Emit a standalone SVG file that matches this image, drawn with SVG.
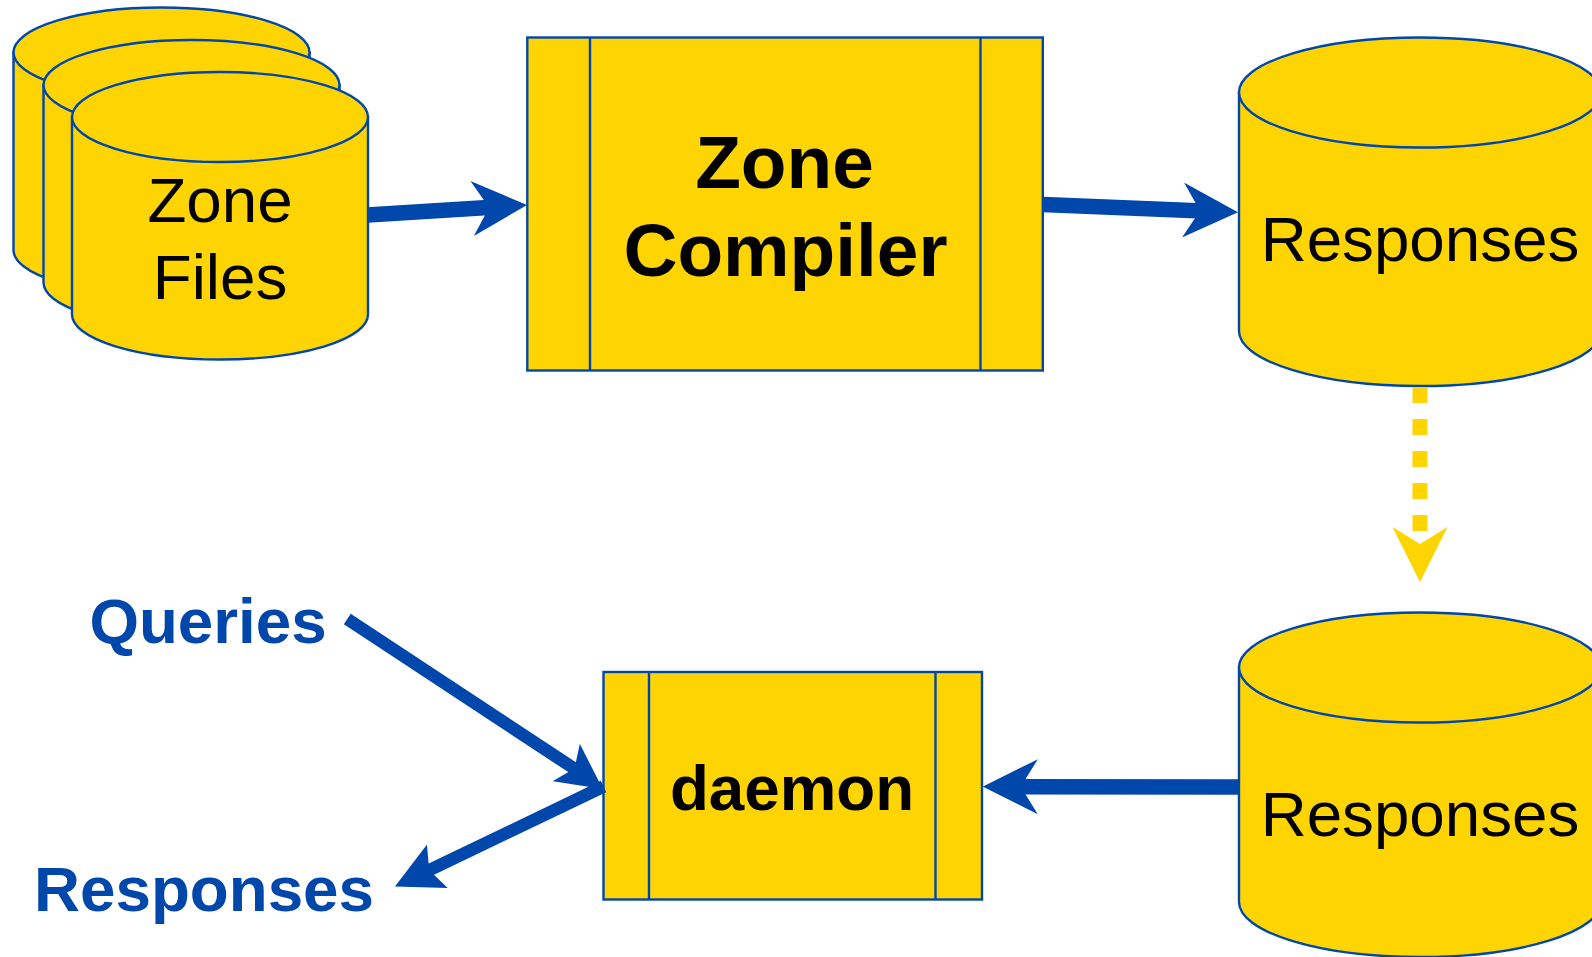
<svg xmlns="http://www.w3.org/2000/svg" width="1592" height="957" viewBox="0 0 1592 957">
<style>
.s{fill:#FFD403;stroke:#0047AB;stroke-width:2.4}
.t{font-family:"Liberation Sans",Arial,sans-serif;font-size:63.7px;fill:#000;text-anchor:middle}
.b{font-weight:bold}
.q{fill:#0047AB}
.big{font-size:74.8px}
.a{fill:none;stroke:#0047AB;stroke-width:15.5}
.a2{fill:none;stroke:#0047AB;stroke-width:12.5}
.d{fill:none;stroke:#FFD403;stroke-width:15;stroke-dasharray:16 16}
</style>
<defs>
<marker id="h" markerUnits="userSpaceOnUse" viewBox="0 0 55 55" markerWidth="55" markerHeight="55" refX="20" refY="27.5" orient="auto"><path d="M55,27.5L0,0L17,27.5L0,55Z" fill="#0047AB"/></marker>
<marker id="hs" markerUnits="userSpaceOnUse" viewBox="0 0 47 48" markerWidth="47" markerHeight="48" refX="17" refY="24" orient="auto"><path d="M47,24L0,0L9,24L0,48Z" fill="#0047AB"/></marker>
<marker id="hq" markerUnits="userSpaceOnUse" viewBox="0 0 45 46" markerWidth="45" markerHeight="46" refX="15" refY="23" orient="36"><path d="M45,23L0,0L10,23L0,46Z" fill="#0047AB"/></marker>
<marker id="hd" markerUnits="userSpaceOnUse" viewBox="0 0 55 55" markerWidth="55" markerHeight="55" refX="17" refY="27.5" orient="auto"><path d="M55,27.5L0,0L17,27.5L0,55Z" fill="#FFD403"/></marker>
</defs>
<g id="zone-file-1">
<path class="s" d="M13.5,52.5V250A148,45 0 0 0 309.5,250V52.5Z"/><ellipse class="s" cx="161.5" cy="52.5" rx="148" ry="45"/>
</g>
<g id="zone-file-2">
<path class="s" d="M43.5,85V282.5A148,45 0 0 0 339.5,282.5V85Z"/><ellipse class="s" cx="191.5" cy="85" rx="148" ry="45"/>
</g>
<g id="zone-file-3">
<path class="s" d="M72,117V314.5A148,45 0 0 0 368,314.5V117Z"/><ellipse class="s" cx="220" cy="117" rx="148" ry="45"/>
<text class="t" x="220" y="222">Zone</text><text class="t" x="220" y="298.5">Files</text>
</g>
<g id="zone-compiler">
<rect class="s" x="527.3" y="37.5" width="515.5" height="333"/><path class="s" d="M590,37.5V370.5M980.5,37.5V370.5"/>
<text class="t b big" x="784.5" y="187.5">Zone</text><text class="t b big" x="785.5" y="276">Compiler</text>
</g>
<g id="responses-top">
<path class="s" d="M1239,92.5V331A181,55 0 0 0 1601,331V92.5Z"/><ellipse class="s" cx="1420" cy="92.5" rx="181" ry="55"/>
<text class="t" x="1420" y="261">Responses</text>
</g>
<g id="responses-bottom">
<path class="s" d="M1239,667.5V902A181,55 0 0 0 1601,902V667.5Z"/><ellipse class="s" cx="1420" cy="667.5" rx="181" ry="55"/>
<text class="t" x="1420" y="835.5">Responses</text>
</g>
<g id="daemon">
<rect class="s" x="603.5" y="672" width="378.5" height="227.5"/><path class="s" d="M649,672V899.5M935.5,672V899.5"/>
<text class="t b" x="792" y="810">daemon</text>
</g>
<g id="queries-label"><text class="t b q" x="208" y="642.5">Queries</text></g>
<g id="responses-label"><text class="t b q" x="204" y="911">Responses</text></g>
<g id="connectors">
<line class="a" x1="367.6" y1="215" x2="492.1" y2="207.2" marker-end="url(#h)"/>
<line class="a" x1="1043" y1="204.6" x2="1203" y2="210.9" marker-end="url(#h)"/>
<line class="d" x1="1420" y1="387" x2="1420" y2="544" marker-end="url(#hd)"/>
<line class="a" x1="1239" y1="787" x2="1017.8" y2="786.7" marker-end="url(#h)"/>
<line class="a2" x1="347.3" y1="619" x2="578.5" y2="771.4" marker-end="url(#hq)"/>
<line class="a2" x1="603.5" y1="786.5" x2="422" y2="873.6" marker-end="url(#hs)"/>
</g>
</svg>
